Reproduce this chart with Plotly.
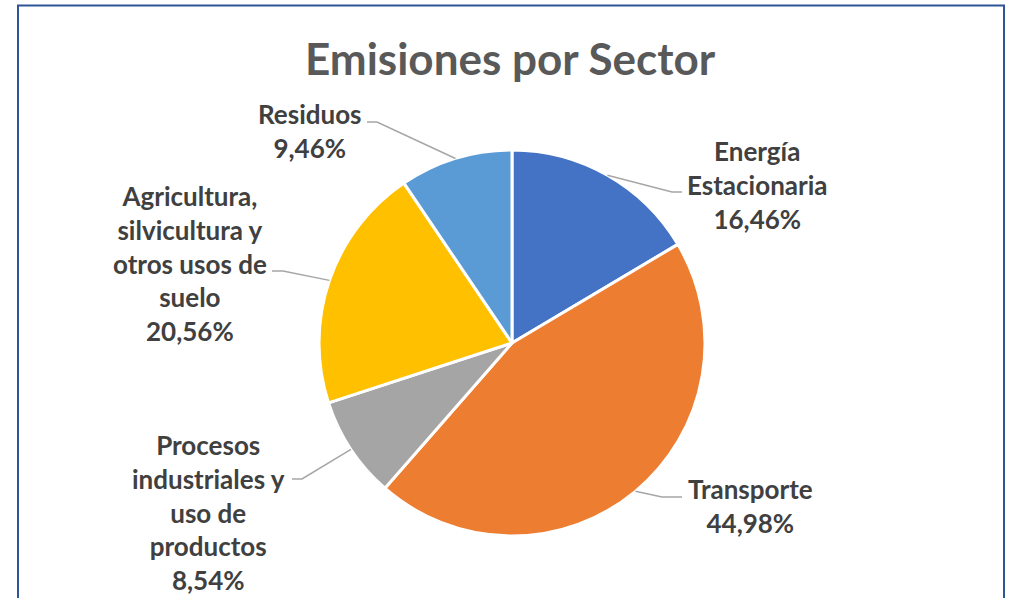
import math
import plotly.graph_objects as go

# ---- data ----
sectors = ["Energía<br>Estacionaria", "Transporte",
           "Procesos<br>industriales y<br>uso de<br>productos",
           "Agricultura,<br>silvicultura y<br>otros usos de<br>suelo",
           "Residuos"]
shares = [16.46, 44.98, 8.54, 20.56, 9.46]
colors = ["#4472C4", "#ED7D31", "#A5A5A5", "#FFC000", "#5B9BD5"]
title_text = "Emisiones por Sector"

# ---- layout (pixels, screen coordinates) ----
W, H = 1012, 598
cx, cy, R = 512, 343, 193
# label centre and leader elbow / end for each slice
label_pos = [(757, 185), (750, 506), (208, 512), (190, 264), (310, 131)]
elbows = [((672, 192), (682, 192)), ((662, 497), (682, 497)),
          ((302, 479), (292, 479)), ((283, 271), (272, 271)),
          ((377, 122), (367, 122))]

def px(x):
    return x / W

def py(y):
    return 1 - y / H

fig = go.Figure(go.Pie(
    labels=[s.replace("<br>", " ") for s in sectors],
    values=shares,
    sort=False,
    direction="clockwise",
    rotation=0,
    marker=dict(colors=colors, line=dict(color="white", width=3)),
    textinfo="none",
    hoverinfo="label+percent",
    showlegend=False,
    domain=dict(x=[px(cx - R), px(cx + R)], y=[py(cy + R), py(cy - R)]),
))

total = sum(shares)
cum = 0
shapes = []
annotations = []
for i, v in enumerate(shares):
    mid = (cum + v / 2) / total * 2 * math.pi
    cum += v
    sx = cx + R * math.sin(mid)
    sy = cy - R * math.cos(mid)
    (ex, ey), (fx, fy) = elbows[i]
    path = f"M {px(sx)},{py(sy)} L {px(ex)},{py(ey)} L {px(fx)},{py(fy)}"
    shapes.append(dict(type="path", path=path, xref="paper", yref="paper",
                       line=dict(color="#A6A6A6", width=1.5)))
    pct = f"{v:.2f}".replace(".", ",") + "%"
    lx, ly = label_pos[i]
    annotations.append(dict(
        x=px(lx), y=py(ly), xref="paper", yref="paper",
        text=f"<b>{sectors[i]}<br>{pct}</b>", showarrow=False,
        align="center", xanchor="center", yanchor="middle",
        font=dict(family="Lato", size=26, color="#404040")))

annotations.append(dict(
    x=px(511), y=py(58), xref="paper", yref="paper",
    text=f"<b>{title_text}</b>", showarrow=False,
    xanchor="center", yanchor="middle",
    font=dict(family="Lato", size=44, color="#595959")))

# chart frame
shapes.append(dict(type="rect", xref="paper", yref="paper",
                   x0=px(18), x1=px(1004), y0=py(660), y1=py(5.5),
                   line=dict(color="#2F5597", width=2)))

fig.update_layout(
    width=W, height=H,
    margin=dict(l=0, r=0, t=0, b=0),
    paper_bgcolor="white", plot_bgcolor="white",
    shapes=shapes, annotations=annotations,
)

fig.write_html("out.html",
               config={"displayModeBar": False},
               post_script="document.body.style.margin='0';"
                           "document.body.style.overflow='hidden';")
